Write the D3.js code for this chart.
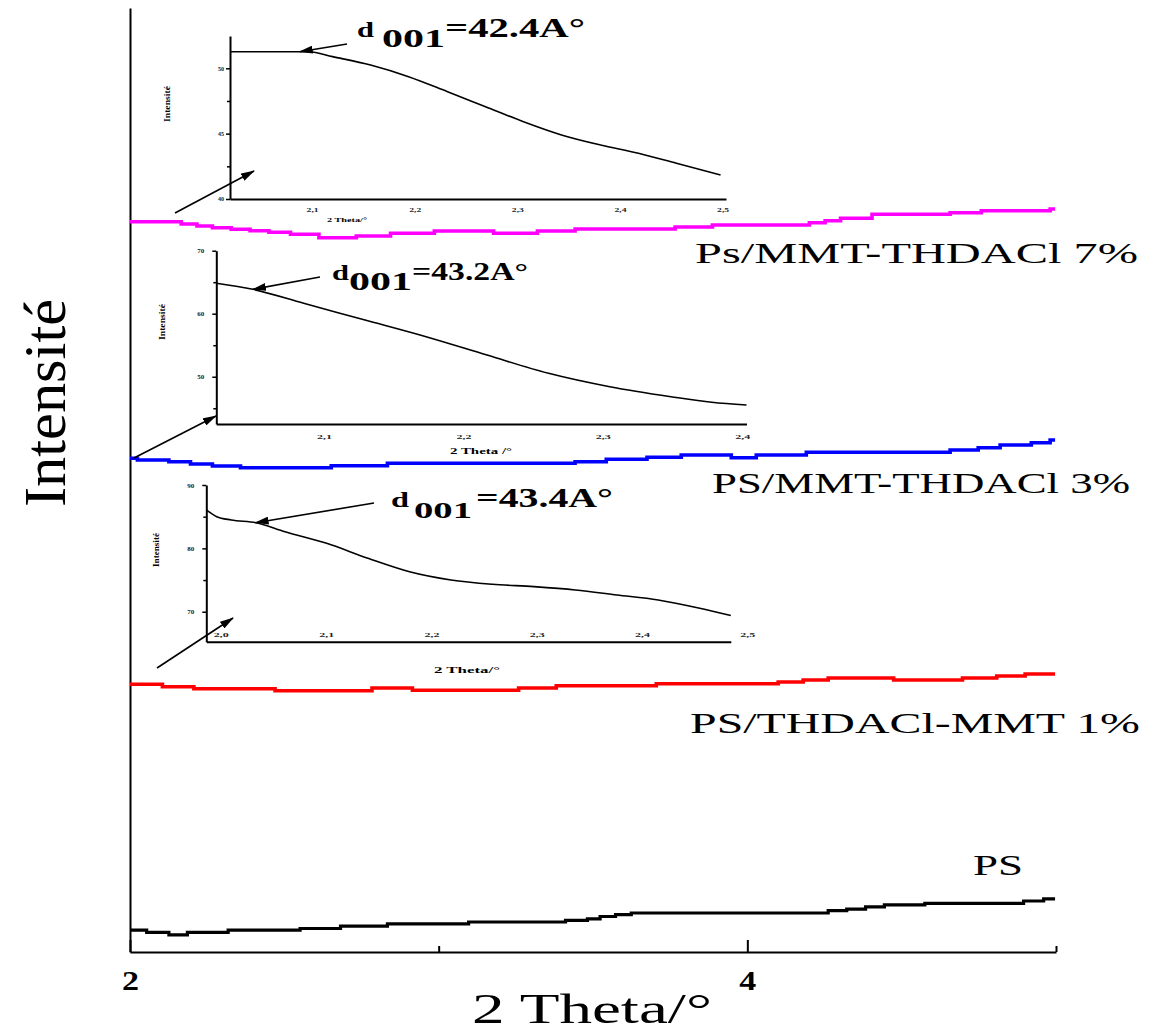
<!DOCTYPE html>
<html><head><meta charset="utf-8">
<script src="https://cdn.jsdelivr.net/npm/d3@7"></script>
<style>body{margin:0;background:#fff;} svg{display:block;}</style>
</head><body>
<svg id="chart" width="1165" height="1032"></svg>
<script>
// ================= DATA =================
const mainXDomain = [2, 5];
const mainYDomain = [0, 944];
const xMajorTicks = [2, 4];
const xMajorLabels = ["2", "4"];
const xMinorTicks = [3, 5];
const seriesNames = ["PS", "PS/THDACl-MMT 1%", "PS/MMT-THDACl 3%", "Ps/MMT-THDACl 7%"];

// [2theta, intensity (a.u., stacked)]
const psSeries = [[2.000,21.9],[2.054,19.7],[2.126,17.1],[2.186,19.7],[2.318,21.9],[2.551,23.5],[2.682,25.8],[2.834,28.1],[3.097,30.0],[3.411,31.6],[3.482,33.2],[3.523,35.5],[3.573,37.4],[3.624,39.0],[4.262,41.3],[4.322,42.9],[4.383,45.2],[4.444,47.1],[4.575,48.7],[4.895,51.0],[4.960,53.2],[4.997,53.2]];
const mmt1Series = [[2.000,267.7],[2.105,265.3],[2.207,263.3],[2.470,261.3],[2.784,264.0],[2.915,261.7],[3.259,264.0],[3.381,266.3],[3.705,268.3],[4.100,270.0],[4.181,272.0],[4.262,274.0],[4.474,272.0],[4.697,274.0],[4.808,276.0],[4.900,278.0],[4.997,278.0]];
const mmt3Series = [[2.000,493.7],[2.024,492.0],[2.126,490.3],[2.196,488.0],[2.267,486.0],[2.358,484.3],[2.652,486.3],[2.834,488.7],[3.442,490.3],[3.543,492.7],[3.675,494.7],[3.786,497.0],[3.948,494.3],[4.029,497.0],[4.191,499.7],[4.657,502.0],[4.748,504.3],[4.819,507.0],[4.920,509.3],[4.981,512.0],[4.997,512.0]];
const mmt7Series = [[2.000,730.3],[2.166,728.0],[2.217,726.0],[2.267,724.3],[2.328,722.7],[2.389,721.3],[2.450,719.7],[2.520,717.7],[2.612,714.3],[2.733,716.0],[2.844,718.7],[2.986,721.0],[3.178,718.7],[3.320,721.0],[3.442,723.0],[3.766,725.0],[3.887,727.0],[4.201,729.3],[4.252,731.3],[4.302,733.7],[4.404,737.7],[4.657,739.3],[4.758,741.3],[4.981,743.0],[4.997,743.0]];

// insets (zoom on the low-angle region)
const inset7Curve = [[2.020,51.27],[2.097,51.27],[2.120,50.89],[2.157,50.25],[2.194,49.36],[2.232,48.21],[2.269,47.06],[2.306,45.91],[2.343,44.90],[2.381,44.13],[2.418,43.50],[2.455,42.73],[2.498,41.84]];
const inset3Curve = [[2.0227,64.83],[2.0489,63.87],[2.0854,61.65],[2.1294,59.0],[2.1732,56.35],[2.2169,53.44],[2.2611,50.54],[2.3050,48.41],[2.3489,46.83],[2.3782,45.94],[2.4031,45.51]];
const inset1Curve = [[1.9862,86.06],[1.9961,85.0],[2.0099,84.48],[2.0334,84.05],[2.0610,82.63],[2.1005,80.80],[2.1398,78.44],[2.1792,76.32],[2.2186,75.02],[2.2579,74.34],[2.2973,73.96],[2.3367,73.44],[2.3761,72.65],[2.4154,71.86],[2.4548,70.55],[2.4843,69.39]];

const inset7XDomain = [2.02, 2.5033], inset7YDomain = [40, 52.47];
const inset3XDomain = [2.0227, 2.4031], inset3YDomain = [42.5, 70];
const inset1XDomain = [1.9862, 2.4843], inset1YDomain = [65.27, 90];

const inset7XTicks = [2.1, 2.2, 2.3, 2.4, 2.5];
const inset3XTicks = [2.1, 2.2, 2.3, 2.4];
const inset1XTicks = [2.0, 2.1, 2.2, 2.3, 2.4, 2.5];
const inset7YMajor = [40, 45, 50], inset7YMinor = [42.5, 47.5];
const inset3YMajor = [50, 60, 70], inset3YMinor = [45, 55, 65];
const inset1YMajor = [70, 80, 90], inset1YMinor = [75, 85];

// d001 annotations: value (Å) and the curve point it marks
const d001Values = [42.4, 43.2, 43.4];
const d001Targets = [[2.088, 51.27], [2.049, 63.87], [2.033, 84.05]];

// ================= LAYOUT / STYLE =================
const serif = '"Liberation Serif","Times New Roman",serif';
const L = {left: 130, right: 1056, top: 8, bottom: 952};
const seriesStyle = [
  {data: psSeries, color: "#000000", width: 3.2},
  {data: mmt1Series, color: "#ff0000", width: 3.6},
  {data: mmt3Series, color: "#0000ff", width: 3.6},
  {data: mmt7Series, color: "#ff00ff", width: 3.6}
];
const seriesLabelPos = [
  {x: 973, y: 875, len: 50},
  {x: 690, y: 733, len: 450},
  {x: 712, y: 493, len: 418},
  {x: 695, y: 263, len: 443}
];

const insets = [
  {curve: inset7Curve, xd: inset7XDomain, yd: inset7YDomain, box: {l: 230, r: 726, t: 36, b: 199},
   xt: inset7XTicks, ymaj: inset7YMajor, ymin: inset7YMinor, xlabDy: 13, tickFs: 6, tickLen: 12,
   xlab: "2 Theta/°", xlabPos: [347, 222, 40, 7], ylabPos: [170, 104, 36, 7.5], ytlx: -6,
   ann: {start: [347, 44], d: [357, 37, 20, 17], sub: [382, 47, 25, 63], eq: [445, 37, 27, 140]},
   zoom: {from: [175, 213], to: [254, 171]}},
  {curve: inset3Curve, xd: inset3XDomain, yd: inset3YDomain, box: {l: 216.3, r: 746.5, t: 250.7, b: 424},
   xt: inset3XTicks, ymaj: inset3YMajor, ymin: inset3YMinor, xlabDy: 15, tickFs: 7, tickLen: 15,
   xlab: "2 Theta /°", xlabPos: [481, 454, 62, 8.5], ylabPos: [165, 322, 36, 8], ytlx: -12,
   ann: {start: [320, 277], d: [332, 280, 21, 17], sub: [349, 290, 25, 63], eq: [412, 280, 25, 116]},
   zoom: {from: [134, 458], to: [216, 416]}},
  {curve: inset1Curve, xd: inset1XDomain, yd: inset1YDomain, box: {l: 206.3, r: 730.8, t: 485, b: 641.7},
   xt: inset1XTicks, ymaj: inset1YMajor, ymin: inset1YMinor, xlabDy: -5, tickFs: 7, tickLen: 15,
   xlab: "2 Theta/°", xlabPos: [467, 673, 66, 8.5], ylabPos: [159, 550, 34, 8], ytlx: -12,
   ann: {start: [374, 503], d: [391, 507, 20, 18], sub: [414, 518, 23, 58], eq: [476, 507, 27, 137]},
   zoom: {from: [157, 668], to: [233, 618]}}
];

// ================= DRAW =================
const svg = d3.select("#chart");
svg.append("rect").attr("width", 1165).attr("height", 1032).attr("fill", "#fff");
svg.append("defs").append("marker").attr("id", "ah").attr("markerUnits", "userSpaceOnUse")
  .attr("viewBox", "0 0 14 8").attr("markerWidth", 14).attr("markerHeight", 8)
  .attr("refX", 13).attr("refY", 4).attr("orient", "auto")
  .append("path").attr("d", "M0,0L14,4L0,8Z").attr("fill", "#000");

function addText(p, o) {
  const t = p.append("text")
    .attr("font-family", serif).attr("font-size", o.size)
    .attr("font-weight", o.weight || "normal").attr("fill", o.fill || "#000")
    .attr("text-anchor", o.anchor || "start").text(o.text);
  if (o.rotate) t.attr("transform", `translate(${o.x},${o.y}) rotate(-90)`);
  else t.attr("x", o.x).attr("y", o.y);
  if (o.len) t.attr("textLength", o.len).attr("lengthAdjust", "spacingAndGlyphs");
  return t;
}

const x = d3.scaleLinear().domain(mainXDomain).range([L.left, L.right]);
const y = d3.scaleLinear().domain(mainYDomain).range([L.bottom, L.top]);

// main x axis
const gx = svg.append("g").attr("transform", `translate(0,${L.bottom})`)
  .call(d3.axisBottom(x).tickValues(xMajorTicks).tickSizeInner(-12).tickSizeOuter(0)
    .tickFormat((d, i) => xMajorLabels[i]));
gx.select(".domain").attr("stroke", "#000").attr("stroke-width", 2);
gx.selectAll(".tick line").attr("stroke", "#000").attr("stroke-width", 2);
gx.selectAll(".tick text").attr("y", 38).attr("dy", null)
  .attr("font-family", serif).attr("font-size", 27).attr("font-weight", "bold").attr("fill", "#000")
  .attr("textLength", 17).attr("lengthAdjust", "spacingAndGlyphs");
const gxm = svg.append("g").attr("transform", `translate(0,${L.bottom})`)
  .call(d3.axisBottom(x).tickValues(xMinorTicks).tickSizeInner(-6).tickSizeOuter(0).tickFormat(""));
gxm.select(".domain").remove();
gxm.selectAll(".tick line").attr("stroke", "#000").attr("stroke-width", 2);

// main y axis (no ticks)
const gy = svg.append("g").attr("transform", `translate(${L.left},0)`)
  .call(d3.axisLeft(y).tickValues([]).tickSizeOuter(0));
gy.select(".domain").attr("stroke", "#000").attr("stroke-width", 2);

// axis titles
addText(svg, {x: 472, y: 1023, text: "2 Theta/°", size: 42, len: 240});
addText(svg, {x: 65, y: 403, text: "Intensité", size: 60, len: 208, anchor: "middle", rotate: true});

// series
const line = d3.line().x(d => x(d[0])).y(d => y(d[1])).curve(d3.curveStepAfter);
seriesStyle.forEach((s, i) => {
  svg.append("path").datum(s.data).attr("d", line).attr("fill", "none")
    .attr("stroke", s.color).attr("stroke-width", s.width);
  const lp = seriesLabelPos[i];
  addText(svg, {x: lp.x, y: lp.y, text: seriesNames[i], size: 30, len: lp.len});
});

// insets
const commaFmt = d => d3.format(".1f")(d).replace(".", ",");
insets.forEach((c, k) => {
  const g = svg.append("g");
  const xs = d3.scaleLinear().domain(c.xd).range([c.box.l, c.box.r]);
  const ys = d3.scaleLinear().domain(c.yd).range([c.box.b, c.box.t]);

  const ay = g.append("g").attr("transform", `translate(${c.box.l},0)`)
    .call(d3.axisLeft(ys).tickValues(c.ymaj).tickSizeInner(4).tickSizeOuter(0).tickFormat(d3.format("d")));
  ay.select(".domain").attr("stroke", "#000").attr("stroke-width", 2);
  ay.selectAll(".tick line").attr("stroke", "#000").attr("stroke-width", 1.5);
  ay.selectAll(".tick text").attr("x", c.ytlx).attr("font-family", serif).attr("font-size", c.tickFs)
    .attr("font-weight", "bold").attr("fill", "#222");
  const aym = g.append("g").attr("transform", `translate(${c.box.l},0)`)
    .call(d3.axisLeft(ys).tickValues(c.ymin).tickSizeInner(3).tickSizeOuter(0).tickFormat(""));
  aym.select(".domain").remove();
  aym.selectAll(".tick line").attr("stroke", "#000").attr("stroke-width", 1.5);

  const ax = g.append("g").attr("transform", `translate(0,${c.box.b})`)
    .call(d3.axisBottom(xs).tickValues(c.xt).tickSizeInner(0).tickSizeOuter(0).tickFormat(commaFmt));
  ax.select(".domain").attr("stroke", "#000").attr("stroke-width", 2);
  ax.selectAll(".tick text").attr("y", c.xlabDy).attr("dy", null).attr("font-family", serif)
    .attr("font-size", c.tickFs).attr("font-weight", "bold").attr("fill", "#222")
    .attr("textLength", c.tickLen).attr("lengthAdjust", "spacingAndGlyphs");

  addText(g, {x: c.xlabPos[0], y: c.xlabPos[1], text: c.xlab, size: c.xlabPos[3], weight: "bold",
    len: c.xlabPos[2], anchor: "middle"});
  addText(g, {x: c.ylabPos[0], y: c.ylabPos[1], text: "Intensité", size: c.ylabPos[3], weight: "bold",
    len: c.ylabPos[2], anchor: "middle", rotate: true});

  g.append("path").datum(c.curve)
    .attr("d", d3.line().x(d => xs(d[0])).y(d => ys(d[1])).curve(d3.curveMonotoneX))
    .attr("fill", "none").attr("stroke", "#000").attr("stroke-width", 1.6);

  // d001 annotation arrow + text
  const tgt = d001Targets[k];
  g.append("line").attr("x1", c.ann.start[0]).attr("y1", c.ann.start[1])
    .attr("x2", xs(tgt[0])).attr("y2", ys(tgt[1]))
    .attr("stroke", "#000").attr("stroke-width", 1.6).attr("marker-end", "url(#ah)");
  addText(g, {x: c.ann.d[0], y: c.ann.d[1], text: "d", size: c.ann.d[2], weight: "bold", len: c.ann.d[3]});
  addText(g, {x: c.ann.sub[0], y: c.ann.sub[1], text: "001", size: c.ann.sub[2], weight: "bold", len: c.ann.sub[3]});
  addText(g, {x: c.ann.eq[0], y: c.ann.eq[1], text: "=" + d001Values[k] + "A°", size: c.ann.eq[2], weight: "bold", len: c.ann.eq[3]});

  // zoom arrow from main curve to inset
  g.append("line").attr("x1", c.zoom.from[0]).attr("y1", c.zoom.from[1])
    .attr("x2", c.zoom.to[0]).attr("y2", c.zoom.to[1])
    .attr("stroke", "#000").attr("stroke-width", 1.6).attr("marker-end", "url(#ah)");
});
</script>
</body></html>
